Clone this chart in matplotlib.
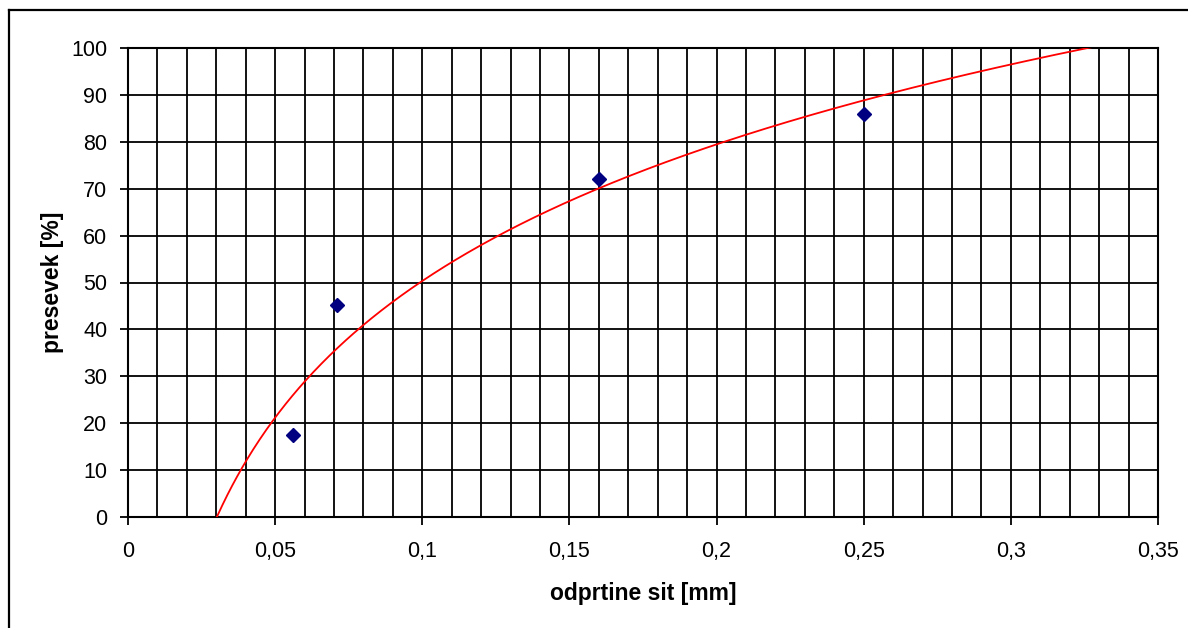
import numpy as np
import matplotlib
matplotlib.use("Agg")
import matplotlib.pyplot as plt
from matplotlib.lines import Line2D

plt.rcParams['font.family'] = ['Liberation Sans', 'DejaVu Sans']

# Data
sieve_mm = [0.056, 0.071, 0.16, 0.25]
passing_pct = [17.5, 45.3, 72.0, 86.0]
x_ticks = [0, 0.05, 0.1, 0.15, 0.2, 0.25, 0.3, 0.35]
x_tick_labels = ["0", "0,05", "0,1", "0,15", "0,2", "0,25", "0,3", "0,35"]
y_ticks = [0, 10, 20, 30, 40, 50, 60, 70, 80, 90, 100]
x_label = "odprtine sit [mm]"
y_label = "presevek [%]"

# Logarithmic trendline fitted to the data (as Excel does)
a, b = np.polyfit(np.log(sieve_mm), passing_pct, 1)
xs = np.linspace(0.02, 0.35, 600)
ys = a * np.log(xs) + b

fig = plt.figure(figsize=(11.88, 6.28), dpi=100)
ax = fig.add_axes([128 / 1188, 1 - 517 / 628, 1030 / 1188, 469 / 628])

ax.plot(xs, ys, color='#FF0000', lw=1.3, zorder=3)
ax.plot(sieve_mm, passing_pct, linestyle='none', marker='D', markersize=7,
        color='#000080', zorder=4)

ax.set_xlim(0, 0.35)
ax.set_ylim(0, 100)
ax.set_xticks(x_ticks)
ax.set_xticklabels(x_tick_labels)
ax.set_xticks(np.arange(0, 0.3501, 0.01), minor=True)
ax.set_yticks(y_ticks)

ax.grid(True, which='both', axis='x', color='black', lw=1.3)
ax.grid(True, which='major', axis='y', color='black', lw=1.3)
ax.set_axisbelow(True)

ax.tick_params(axis='x', which='major', direction='out', length=6, width=1.3,
               labelsize=15.5, pad=11)
ax.tick_params(axis='x', which='minor', length=0)
ax.tick_params(axis='y', which='major', direction='out', length=6, width=1.3,
               labelsize=15.5, pad=9)
for s in ax.spines.values():
    s.set_linewidth(1.5)
    s.set_color('black')

ax.set_xlabel(x_label, fontsize=16.5, fontweight='bold', labelpad=15)
ax.set_ylabel(y_label, fontsize=16.5, fontweight='bold', labelpad=5)

# Chart-area border (left and top visible)
xl = 9 / 1188
yt = 1 - 10 / 628
fig.add_artist(Line2D([xl, xl], [0, yt], transform=fig.transFigure,
                      color='black', lw=1.6))
fig.add_artist(Line2D([xl, 1], [yt, yt], transform=fig.transFigure,
                      color='black', lw=1.6))

fig.savefig("out.png", dpi=100)
